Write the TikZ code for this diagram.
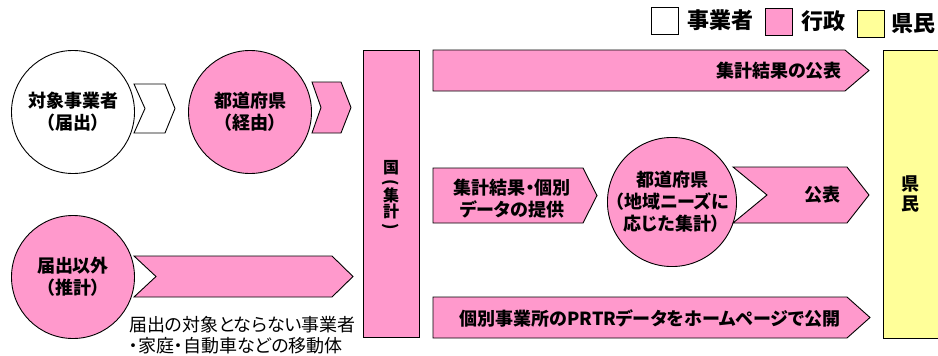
\documentclass[tikz,border=0pt]{standalone}
\usepackage{fontspec}
\setmainfont{Noto Sans CJK JP}[RawFeature=+palt]
\usetikzlibrary{positioning}
\definecolor{prpink}{RGB}{255,153,204}
\definecolor{pryellow}{RGB}{255,255,153}
\tikzset{
  actor/.style={
    circle, draw, line width=0.9pt, minimum size=123pt, inner sep=0pt,
    align=center, font=\fontsize{18}{22}\selectfont\bfseries
  },
  panel/.style={
    rectangle, draw, line width=0.9pt, inner sep=0pt
  },
  arrowshape/.style={
    draw, line width=0.9pt, line join=miter
  },
  boxtext/.style={
    align=center, inner sep=0pt, font=\fontsize{18}{22}\selectfont\bfseries
  },
  legendbox/.style={
    rectangle, draw, line width=0.9pt, minimum size=27pt, inner sep=0pt
  },
  legendtext/.style={
    inner sep=0pt, font=\fontsize{22}{24}\selectfont\bfseries
  }
}
% block arrow: fill, left, notch, shoulder, tip, top, bottom
\newcommand{\flowshape}[7]{%
  \draw[arrowshape, fill=#1] (#2,#6) -- (#4,#6) -- (#5,{(#6+#7)/2}) -- (#4,#7)
    -- (#2,#7) -- (#3,{(#6+#7)/2}) -- cycle;}
% parenthesis turned for vertical text
\newcommand{\vparen}[1]{\rotatebox[origin=c]{-90}{#1}}

\begin{document}
\begin{tikzpicture}[x=1pt, y=-1pt]
  \useasboundingbox (0,0) rectangle (938,356);

  % legend
  \node[legendbox, fill=white] (lgbiz) at (664.5,20.5) {};
  \node[legendtext, right=9pt of lgbiz] (lgbiztext) {事業者};
  \node[legendbox, fill=prpink] (lgadm) at (778.5,21.5) {};
  \node[legendtext, right=9pt of lgadm] (lgadmtext) {行政};
  \node[legendbox, fill=pryellow] (lgcit) at (870.5,23.5) {};
  \node[legendtext, right=7pt of lgcit] (lgcittext) {県民};

  % left column
  \node[actor, fill=white] (business) at (73,112) {対象事業者\\（届出）};
  \flowshape{white}{134}{145}{165}{175}{84}{133}
  \node[actor, fill=prpink] (prefin) at (250,112) {都道府県\\（経由）};
  \flowshape{prpink}{312}{321}{341}{351}{82}{133}
  \node[actor, fill=prpink] (estimate) at (73,277) {届出以外\\（推計）};
  \flowshape{prpink}{134}{156}{332}{353}{256}{297}
  \node[anchor=west, align=left, inner sep=0pt, font=\fontsize{18}{20.5}\selectfont]
    (othernote) at (129,335) {届出の対象とならない事業者\\・家庭・自動車などの移動体};

  % national government
  \node[panel, fill=prpink, minimum width=56pt, minimum height=287pt] (nation) at (391,193.5) {};
  \node[boxtext, font=\fontsize{16}{14}\selectfont\bfseries] (nationtext) at (391,196)
    {国\\\vparen{(}\\集\\計\\\vparen{)}};

  % outputs
  \flowshape{prpink}{433}{433}{845}{869}{50}{91}
  \node[boxtext, anchor=east] (toppub) at (842,71) {集計結果の公表};
  \flowshape{prpink}{433}{433}{583}{597}{168}{223}
  \node[boxtext] (provide) at (512,199) {集計結果・個別\\データの提供};
  \node[actor, fill=prpink] (prefout) at (672,202) {都道府県\\（地域ニーズに\\応じた集計）};
  \flowshape{prpink}{733}{767}{847}{869}{167}{223}
  \node[boxtext] (localpub) at (822,195) {公表};
  \flowshape{prpink}{433}{433}{847}{870}{297}{338}
  \node[boxtext] (webpub) at (650,318) {個別事業所のPRTRデータをホームページで公開};

  % citizens
  \draw[panel, fill=pryellow] (883,50) rectangle (950,338);
  \node[boxtext, font=\fontsize{18}{20}\selectfont\bfseries] (citizen) at (910,194) {県\\民};
\end{tikzpicture}
\end{document}
